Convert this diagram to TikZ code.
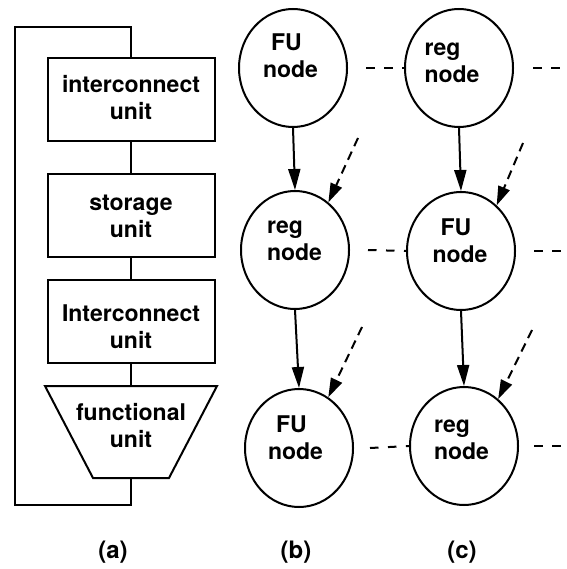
\documentclass[tikz,border=0pt]{standalone}
\usepackage{fontspec}
\setmainfont{TeX Gyre Heros}
\usetikzlibrary{arrows.meta,shapes.geometric}
% equal height and depth for every text line
\newcommand{\rowstrut}{\vphantom{Fg}}
\begin{document}
\begin{tikzpicture}[x=1pt,y=-1pt,line width=2pt,
  lbl/.style={font=\fontsize{23}{27}\selectfont\bfseries,inner sep=0pt},
  ctext/.style={lbl,align=center},
  ltext/.style={lbl,align=left},
  panel/.style={font=\fontsize{24}{28}\selectfont\bfseries,inner sep=0pt},
  unitbox/.style={draw,rectangle,minimum width=167pt,minimum height=83pt,inner sep=0pt},
  graphnode/.style={draw,ellipse,minimum width=108pt,minimum height=118pt,inner sep=0pt},
  flow/.style={-{Triangle[length=21pt,width=12pt]}},
  feed/.style={dash pattern=on 9pt off 6pt,-{Triangle[length=19pt,width=12pt]}},
  link/.style={dash pattern=on 8.5pt off 9.5pt},
]
\useasboundingbox (0,0) rectangle (566,569);

% ---------- (a) datapath column ----------
\node[unitbox] (ic1) at (131,100) {};
\node[unitbox] (st)  at (131,215.5) {};
\node[unitbox] (ic2) at (131,321.5) {};
\node[ctext] (ic1t) at (131,100.2) {\rowstrut interconnect\\\rowstrut unit};
\node[ctext] (stt)  at (131,218) {\rowstrut storage\\\rowstrut unit};
\node[ctext] (ic2t) at (131,329) {\rowstrut Interconnect\\\rowstrut unit};

% functional unit (trapezoid)
\coordinate (ftl) at (45,386);
\coordinate (ftr) at (217,386);
\coordinate (fbr) at (169,478);
\coordinate (fbl) at (93,478);
\coordinate (ftop) at (131,386);
\coordinate (fbot) at (131,478);
\draw[line join=miter] (ftl) -- (ftr) -- (fbr) -- (fbl) -- cycle;
\node[ctext] (fut) at (131,427.7) {\rowstrut functional\\\rowstrut unit};

% vertical links and feedback loop
\draw (ic1.south) -- (st.north);
\draw (st.south) -- (ic2.north);
\draw (ic2.south) -- (ftop);
\coordinate (loopBR) at (131,505);
\coordinate (loopBL) at (15,505);
\coordinate (loopTL) at (15,27);
\coordinate (loopTR) at (131,27);
\draw (fbot) -- (loopBR) -- (loopBL) -- (loopTL) -- (loopTR) -- (ic1.north);

% ---------- (b) and (c) node chains ----------
\node[graphnode] (b1) at (293,68) {};
\node[graphnode] (b2) at (295,250) {};
\node[graphnode] (b3) at (299,448) {};
\node[graphnode] (c1) at (459,68) {};
\node[graphnode] (c2) at (461,251) {};
\node[graphnode] (c3) at (464,446) {};

\node[ltext] (b1t) at (290.5,57.7) {\rowstrut\hspace*{8pt}FU\\\rowstrut node};
\node[ltext] (b2t) at (294.5,240.7) {\rowstrut reg\\\rowstrut node};
\node[ltext] (b3t) at (295.5,439.7) {\rowstrut\hspace*{8pt}FU\\\rowstrut node};
\node[ltext] (c1t) at (452,62.7) {\rowstrut reg\\\rowstrut node};
\node[ltext] (c2t) at (460,242.7) {\rowstrut\hspace*{8pt}FU\\\rowstrut node};
\node[ltext] (c3t) at (461.5,439.7) {\rowstrut reg\\\rowstrut node};

% solid data-flow arrows
\draw[flow] (b1.south) -- (b2.north);
\draw[flow] (b2.south) -- (b3.north);
\draw[flow] (c1.south) -- (c2.north);
\draw[flow] (c2.south) -- (c3.north);

% dashed incoming arrows
\coordinate (fb2) at (358,138);
\coordinate (fc2) at (523,143);
\coordinate (fb3) at (362,327);
\coordinate (fc3) at (532,330);
\draw[feed] (fb2) -- (b2.55);
\draw[feed] (fc2) -- (c2.52);
\draw[feed] (fb3) -- (b3.60);
\draw[feed] (fc3) -- (c3.54);

% dashed horizontal links
\coordinate (edge) at (566,0);
\draw[link] ([xshift=18pt]b1.east) -- (c1.west);
\draw[link] ([xshift=18pt]b2.east) -- (c2.west);
\draw[link] ([xshift=16pt]b3.east) -- (c3.west);
\draw[link] ([xshift=19pt]c1.east) -- (c1.east -| edge);
\draw[link] ([xshift=18pt]c2.east) -- (c2.east -| edge);
\draw[link] ([xshift=15pt]c3.east) -- (c3.east -| edge);

% panel captions
\node[panel] (pa) at (113,552) {(a)};
\node[panel] (pb) at (296,552) {(b)};
\node[panel] (pc) at (462,552) {(c)};
\end{tikzpicture}
\end{document}
